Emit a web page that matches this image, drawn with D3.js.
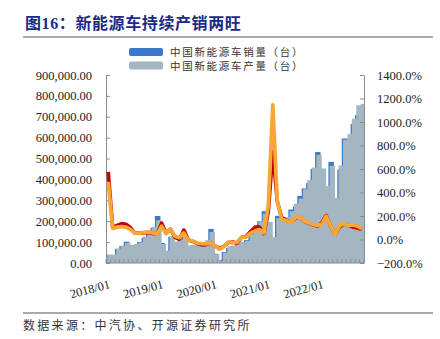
<!DOCTYPE html>
<html><head><meta charset="utf-8">
<script src="https://cdn.jsdelivr.net/npm/d3@7/dist/d3.min.js"></script>
<style>body{margin:0;background:#fff}svg{display:block}</style>
</head><body>
<svg id="c" width="440" height="339"></svg>
<script>
const months = [
"2018/01","2018/02","2018/03","2018/04","2018/05","2018/06","2018/07","2018/08","2018/09","2018/10","2018/11","2018/12",
"2019/01","2019/02","2019/03","2019/04","2019/05","2019/06","2019/07","2019/08","2019/09","2019/10","2019/11","2019/12",
"2020/01","2020/02","2020/03","2020/04","2020/05","2020/06","2020/07","2020/08","2020/09","2020/10","2020/11","2020/12",
"2021/01","2021/02","2021/03","2021/04","2021/05","2021/06","2021/07","2021/08","2021/09","2021/10","2021/11","2021/12",
"2022/01","2022/02","2022/03","2022/04","2022/05","2022/06","2022/07","2022/08","2022/09","2022/10"];
// 中国新能源车产量（台）
const production = [
40700,39200,68000,81000,96000,86000,91000,99000,127000,146000,173000,205000,
91000,59000,128000,102000,112000,134000,84000,87000,89000,95000,109000,149000,
42000,9600,50000,80000,83000,102000,100000,105000,136000,164000,200000,235000,
197000,124000,215000,217000,217000,248000,284000,309000,353000,397000,457000,518000,
452000,368000,465000,312000,466000,590000,617000,691000,755000,762000];
// 中国新能源车销量（台）
const sales = [
38200,34500,68000,82000,102000,84000,84000,101000,121000,138000,169000,225000,
96000,53000,126000,97000,104000,152000,80000,85000,80000,75000,95000,163000,
44000,13100,53000,72000,82000,104000,98000,109000,138000,160000,200000,248000,
179000,110000,226000,206000,217000,256000,271000,321000,357000,383000,450000,531000,
431000,334000,484000,299000,447000,596000,593000,666000,708000,714000];
// 销量同比（%）
const salesYoY = [
575,105,120,135,130,100,55,55,55,60,52,45,
140,54,88,18,2,80,-5,-16,-34,-46,-44,-27,
-54,-75,-58,-26,-22,-32,19,26,68,105,105,50,
240,750,326,186,165,146,177,194,159,139,125,114,
141,204,114,45,106,133,119,107,98,86];
// 产量同比（%）
const prodYoY = [
490,95,105,110,105,85,55,55,60,65,55,45,
113,51,85,28,16,56,-8,-12,-30,-35,-37,-27,
-53,-84,-61,-22,-26,-24,20,22,53,73,84,56,
290,1145,330,171,161,143,184,194,160,142,129,120,
129,197,116,44,115,138,117,124,114,92];
const leftTicks = [0,100000,200000,300000,400000,500000,600000,700000,800000,900000];
const rightTicks = [-200,0,200,400,600,800,1000,1200,1400];
const xLabels = ["2018/01","2019/01","2020/01","2021/01","2022/01"];
const legendNames = ["中国新能源车销量（台）","中国新能源车产量（台）"];
const title = "图16：新能源车持续产销两旺";
const source = "数据来源：中汽协、开源证券研究所";

const svg = d3.select("#c");
const L = 106, R = 364, T = 75, B = 263;
const x = d3.scaleBand().domain(months).range([L, R]).padding(0);
const bw = x.bandwidth();
const yL = d3.scaleLinear().domain([0, 900000]).range([B, T]);
const yR = d3.scaleLinear().domain([-200, 1400]).range([B, T]);
const serif = "'Liberation Serif','Times New Roman',serif";
const cjk = "'Noto Sans CJK SC','Noto Sans',sans-serif";

svg.append("rect").attr("width",440).attr("height",339).attr("fill","#fff");

// title
svg.append("text").attr("x",25).attr("y",29).text(title)
  .attr("font-family","'Liberation Serif','Noto Sans CJK SC',serif").attr("font-weight","bold")
  .attr("font-size",16).attr("letter-spacing",0.6).attr("fill","#1c2a84");
svg.append("line").attr("x1",23).attr("x2",433).attr("y1",37).attr("y2",37)
  .attr("stroke","#8c8c8c").attr("stroke-width",1.5);
svg.append("line").attr("x1",23).attr("x2",433).attr("y1",313).attr("y2",313)
  .attr("stroke","#8c8c8c").attr("stroke-width",1.5);
svg.append("text").attr("x",23).attr("y",330).text(source)
  .attr("font-family",cjk).attr("font-size",12).attr("letter-spacing",2.3).attr("fill","#333");

// legend
const legColors = ["#3a78c9","#a3b6c2"];
legendNames.forEach((n,i)=>{
  svg.append("rect").attr("x",129).attr("y",48+i*13.5).attr("width",34).attr("height",8)
    .attr("rx",2).attr("fill",legColors[i]);
  svg.append("text").attr("x",170).attr("y",56+i*13.8).text(n)
    .attr("font-family",cjk).attr("font-size",10.5).attr("letter-spacing",1.7).attr("fill","#333");
});

// bars
svg.append("clipPath").attr("id","pc").append("rect")
  .attr("x",L).attr("y",T-5).attr("width",R-L).attr("height",B-T+5);
const gb = svg.append("g").attr("clip-path","url(#pc)");
gb.selectAll(".s").data(months).join("rect")
  .attr("x",d=>x(d)).attr("width",bw+1)
  .attr("y",(d,i)=>yL(sales[i])).attr("height",(d,i)=>B-yL(sales[i]))
  .attr("fill","#3a78c9");
gb.selectAll(".p").data(months).join("rect")
  .attr("x",d=>x(d)+1.2).attr("width",bw+1)
  .attr("y",(d,i)=>yL(production[i])).attr("height",(d,i)=>B-yL(production[i]))
  .attr("fill","#a3b6c2");

// axes
const axL = svg.append("g").attr("transform",`translate(${L},0)`)
  .call(d3.axisLeft(yL).tickValues(leftTicks).tickFormat(d3.format(",.2f"))
    .tickSizeInner(-4).tickSizeOuter(0).tickPadding(14));
const axR = svg.append("g").attr("transform",`translate(${R},0)`)
  .call(d3.axisRight(yR).tickValues(rightTicks).tickFormat(d=>d3.format(".1f")(d)+"%")
    .tickSizeInner(-4).tickSizeOuter(0).tickPadding(13));
[axL,axR].forEach(a=>{
  a.select(".domain").attr("stroke","#8a8a8a");
  a.selectAll(".tick line").attr("stroke","#8a8a8a");
  a.selectAll(".tick text").attr("font-family",serif).attr("font-size",12.5).attr("fill","#222");
});
svg.append("line").attr("x1",L).attr("x2",R).attr("y1",B).attr("y2",B).attr("stroke","#8a8a8a");
const bounds = months.map(m=>x(m)).concat([R]);
svg.selectAll(".xt").data(bounds).join("line")
  .attr("x1",d=>d).attr("x2",d=>d).attr("y1",B).attr("y2",B-4)
  .attr("stroke","#8a8a8a").attr("stroke-width",0.8);
xLabels.forEach(lb=>{
  const cx = x(lb)+bw/2+2.5;
  svg.append("text").attr("transform",`translate(${cx},288) rotate(-15)`)
    .attr("text-anchor","end").text(lb)
    .attr("font-family",serif).attr("font-size",12.5).attr("fill","#222");
});

// lines
const line = arr => d3.line().x((d,i)=>x(months[i])+bw/2).y(d=>yR(d))(arr);
svg.append("path").attr("d",line(salesYoY)).attr("fill","none")
  .attr("stroke","#c00000").attr("stroke-width",3.6).attr("stroke-linejoin","round");
svg.append("path").attr("d",line(prodYoY)).attr("fill","none")
  .attr("stroke","#f7a736").attr("stroke-width",3.8).attr("stroke-linejoin","round");
</script>
</body></html>
